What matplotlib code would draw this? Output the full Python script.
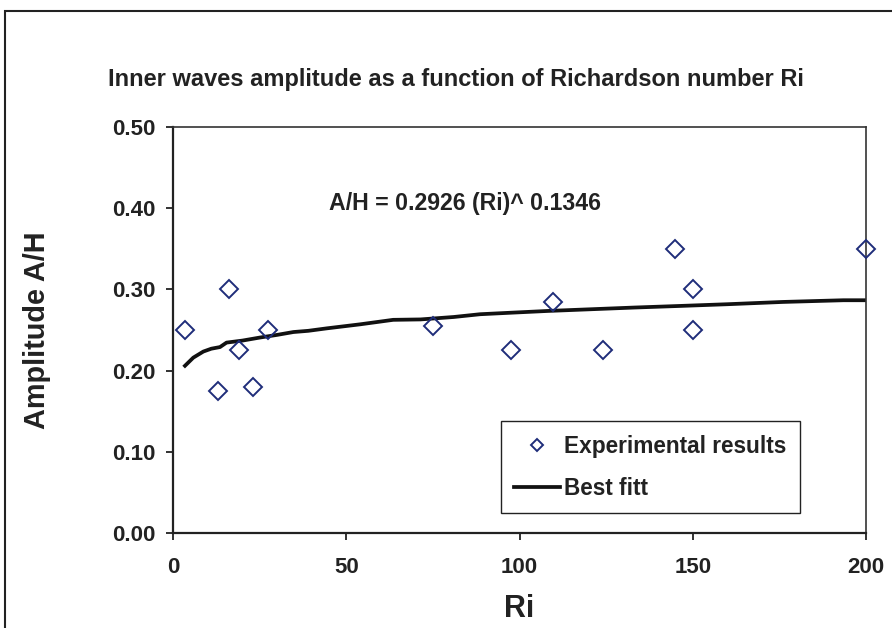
import matplotlib
matplotlib.use('Agg')
import matplotlib.pyplot as plt
from matplotlib.patches import Rectangle

plt.rcParams['font.family'] = ['Liberation Sans', 'DejaVu Sans']
plt.rcParams['font.weight'] = 'bold'

# experimental points
exp_ri = [3.5, 13, 16, 19, 23, 27.5, 75, 97.5, 109.5, 124, 145, 150, 150, 200]
exp_ah = [0.25, 0.175, 0.30, 0.225, 0.18, 0.25, 0.255, 0.225, 0.285, 0.225, 0.35, 0.30, 0.25, 0.35]

# best fit curve (stepped as in the original)
fit_ri = [3.4, 5.8, 8.7, 11, 13.5, 15.4, 20, 25, 30, 34.7, 39, 44.3, 54, 63.5,
          71.4, 81, 88.6, 98.2, 108, 120.5, 133, 146.4, 160, 176, 193.5, 200]
fit_ah = [0.206, 0.216, 0.2235, 0.227, 0.229, 0.2345, 0.237, 0.2407, 0.244, 0.2475,
          0.249, 0.252, 0.257, 0.2625, 0.263, 0.266, 0.2694, 0.2714, 0.2734, 0.2755,
          0.2776, 0.2796, 0.2817, 0.2845, 0.2866, 0.2866]

x_ticks = [0, 50, 100, 150, 200]
y_ticks = [0.0, 0.1, 0.2, 0.3, 0.4, 0.5]

fig = plt.figure(figsize=(8.92, 6.28), dpi=100)
ax = fig.add_axes([173.2 / 892, 1 - 533.3 / 628, 692.8 / 892, 406.6 / 628])

ax.plot(fit_ri, fit_ah, '-', color='#111111', lw=2.7, label='Best fitt', zorder=2)
ax.plot(exp_ri, exp_ah, 'D', ms=9.2, mfc='none', mec='#1f2d7a', mew=1.4,
        label='Experimental results', clip_on=False, zorder=3)

ax.set_xlim(0, 200)
ax.set_ylim(0, 0.5)
ax.set_xticks(x_ticks)
ax.set_yticks(y_ticks)
ax.set_yticklabels([f'{v:.2f}' for v in y_ticks])
ax.tick_params(axis='both', direction='out', length=5, width=1.3, colors='#222222',
               labelsize=16)
ax.tick_params(axis='y', pad=8)
ax.tick_params(axis='x', pad=12)
for lab in ax.get_xticklabels() + ax.get_yticklabels():
    lab.set_fontweight('bold')

for side in ['left', 'bottom']:
    ax.spines[side].set_linewidth(1.6)
    ax.spines[side].set_color('#222222')
for side in ['top', 'right']:
    ax.spines[side].set_linewidth(1.2)
    ax.spines[side].set_color('#333333')

ax.set_xlabel('Ri', fontsize=22, fontweight='bold', color='#222222', va='baseline')
ax.xaxis.set_label_coords(0.5, (533.3 - 617) / 406.6)
ax.set_ylabel('Amplitude A/H', fontsize=20.8, fontweight='bold', color='#222222', va='center')
ax.yaxis.set_label_coords((37 - 173.2) / 692.8, 0.5)

ax.text(45, 0.397, 'A/H = 0.2926 (Ri)^ 0.1346', fontsize=16.7, fontweight='bold',
        color='#222222', va='baseline', ha='left')

fig.text(455.5 / 892, 1 - 86 / 628,
         'Inner waves amplitude as a function of Richardson number Ri',
         fontsize=17, fontweight='bold', color='#222222', ha='center', va='baseline')

# legend: diamond first, then line
handles, labels = ax.get_legend_handles_labels()
leg = ax.legend(handles[::-1], labels[::-1], loc='upper left',
                bbox_to_anchor=((500.7 - 173.2) / 692.8, (533.3 - 421) / 406.6),
                borderaxespad=0, fontsize=16.3, frameon=True, fancybox=False,
                edgecolor='#222222', framealpha=1, handlelength=2.0,
                handletextpad=0.2, borderpad=0.6, labelspacing=0.85, markerscale=0.7)
leg.get_frame().set_linewidth(1.0)
for t in leg.get_texts():
    t.set_fontweight('bold')
    t.set_color('#222222')

# outer chart border
fig.add_artist(Rectangle((5 / 892, -0.1), 1.2, 1.1 - 11 / 628, transform=fig.transFigure,
                         fill=False, lw=1.5, edgecolor='#222222'))

fig.savefig('out.png', dpi=100)
